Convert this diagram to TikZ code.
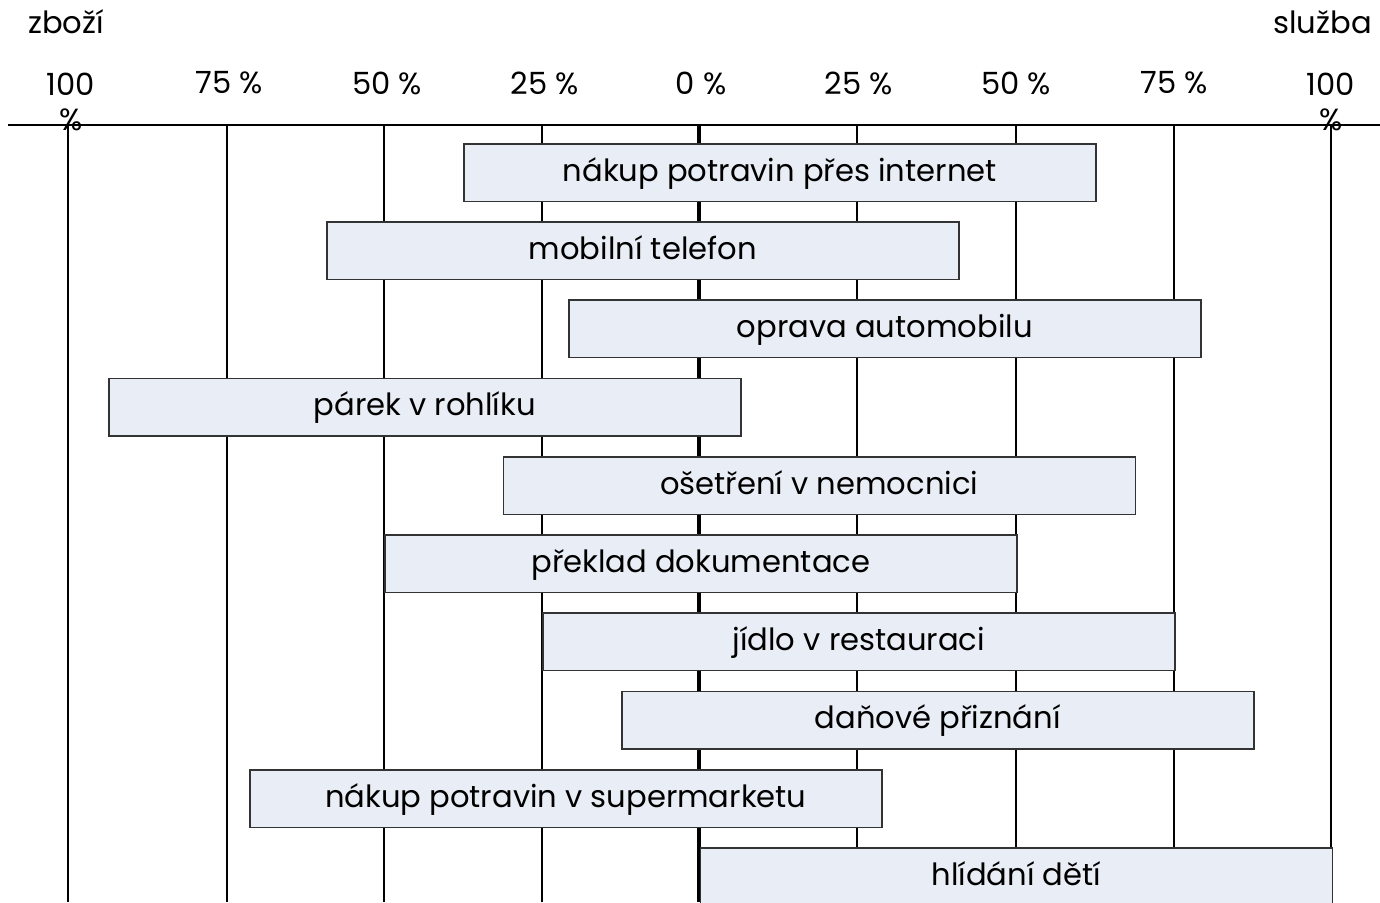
\documentclass[tikz,border=0pt]{standalone}
\usepackage{fontspec}
\setmainfont{Poppins}[Scale=1.02]
\definecolor{boxfill}{HTML}{E9EDF5}
\definecolor{boxline}{HTML}{333333}
\begin{document}
\begin{tikzpicture}[x=1pt,y=-1pt,
  catbox/.style={draw=boxline,line width=1.6pt,fill=boxfill,minimum width=632pt,minimum height=57.5pt,inner sep=0pt,anchor=north west,font=\fontsize{30}{36}\selectfont,text height=22pt,text depth=5pt},
  gridline/.style={line width=1.6pt,black},
  pct/.style={font=\fontsize{30}{36}\selectfont,inner sep=0pt,align=center}]
\useasboundingbox (0,0) rectangle (1380,902);
% header texts
\node[pct,anchor=west] (zbozi) at (28,22) {zboží};
\node[pct,anchor=east] (sluzba) at (1372,22) {služba};
% axis line
\coordinate (axL) at (8,125);
\coordinate (axR) at (1380,125);
\draw[gridline] (axL) -- (axR);
% vertical grid lines
\foreach \n/\x in {a/68,b/227,c/384,d/542,f/857,g/1016,h/1174,i/1331}{
  \coordinate (t\n) at (\x,125);
  \coordinate (b\n) at (\x,902);
  \draw[gridline] (t\n) -- (b\n);
}
\coordinate (te) at (699,125);
\coordinate (be) at (699,902);
\draw[line width=4pt] (te) -- (be);
% percentage labels
\node[pct] (p100l) at (71,102) {100\\[-1pt]\%};
\node[pct] (p75l) at (229,83) {75 \%};
\node[pct] (p50l) at (387,83) {50 \%};
\node[pct] (p25l) at (545,83) {25 \%};
\node[pct] (p0) at (701,83) {0 \%};
\node[pct] (p25r) at (859,83) {25 \%};
\node[pct] (p50r) at (1016,83) {50 \%};
\node[pct] (p75r) at (1174,83) {75 \%};
\node[pct] (p100r) at (1331,102) {100\\[-1pt]\%};
% boxes
\node[catbox] (b1) at (463,143) {nákup potravin přes internet};
\node[catbox] (b2) at (326,221) {mobilní telefon};
\node[catbox] (b3) at (568,299) {oprava automobilu};
\node[catbox] (b4) at (108,377.5) {párek v rohlíku};
\node[catbox] (b5) at (502.5,456) {ošetření v nemocnici};
\node[catbox] (b6) at (384,534) {překlad dokumentace};
\node[catbox] (b7) at (542,612) {jídlo v restauraci};
\node[catbox] (b8) at (621,690.5) {daňové přiznání};
\node[catbox] (b9) at (249,769) {nákup potravin v supermarketu};
\node[catbox] (b10) at (699.5,847) {hlídání dětí};
\end{tikzpicture}
\end{document}
